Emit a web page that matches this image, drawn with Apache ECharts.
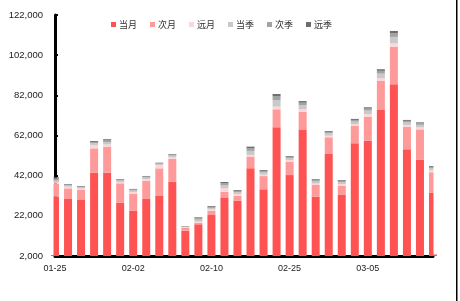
<!DOCTYPE html>
<html>
<head>
<meta charset="utf-8">
<script src="https://cdn.jsdelivr.net/npm/echarts@6/dist/echarts.min.js"></script>
<style>
html,body{margin:0;padding:0;background:#fff;}
#c{width:460px;height:301px;}
</style>
</head>
<body>
<div id="c"></div>
<script>
var categories = ['01-25','01-26','01-27','01-28','01-29','02-01','02-02','02-03','02-04','02-05',
  '02-08','02-09','02-10','02-18','02-19','02-22','02-23','02-24','02-25','02-26',
  '03-01','03-02','03-03','03-04','03-05','03-08','03-09','03-10','03-11','03-12'];
var seriesNames = ['当月','次月','远月','当季','次季','远季'];
var dangYue = [31500,30400,29900,43500,43500,28500,24600,30400,31900,39000,
  14600,17800,22400,31200,29500,45700,35200,66100,42300,64700,
  31500,52800,32400,58100,59400,74700,87500,55100,50100,33500];
var ciYue = [6500,5300,5000,12100,12950,9700,8300,9100,13750,11300,
  1500,800,2150,2800,2500,5800,6600,8950,6650,9150,
  5850,8300,4600,8650,12000,14450,18700,11300,14950,10200];
var yuanYue = [800,800,700,1650,1100,650,1000,850,1650,1000,
  200,500,600,1700,850,850,750,1300,850,1200,
  750,800,850,750,1200,1350,1700,850,950,900];
var dangJi = [1000,600,550,900,1200,700,700,700,550,700,
  300,1000,800,1500,950,2000,1100,3200,1000,2000,
  1000,1200,1000,1400,1800,2300,3200,1300,1300,1100];
var ciJi = [900,450,400,650,800,500,500,500,350,500,
  200,700,550,1100,650,1300,750,1900,650,1300,
  700,750,650,850,1000,1400,1900,750,800,700];
var yuanJi = [500,300,300,450,600,300,300,300,250,300,
  150,450,400,550,400,800,400,1200,350,800,
  400,400,350,500,650,800,1050,450,450,400];
var yTicks = [2000,22000,42000,62000,82000,102000,122000];

var seriesData = [dangYue, ciYue, yuanYue, dangJi, ciJi, yuanJi];
var colors = ['#FF5252','#FF9A9A','#FFD6D6','#C9C9C9','#A3A3A3','#6E6E6E'];

var chart = echarts.init(document.getElementById('c'), null, {renderer:'canvas'});
var series = seriesNames.map(function(n, i){
  return {
    name: n, type: 'bar', stack: 'all', data: seriesData[i],
    barWidth: 8, clip: true,
    itemStyle: {color: colors[i]}
  };
});
chart.setOption({
  animation: false,
  backgroundColor: '#fff',
  legend: {
    data: seriesNames,
    left: 106, top: 15,
    itemWidth: 5, itemHeight: 5, itemGap: 13,
    icon: 'rect',
    textStyle: {fontSize: 9, color: '#333', fontFamily: 'Noto Sans CJK SC', padding: [0,0,0,-2]}
  },
  grid: {left: 55, right: 27, top: 15, bottom: 45},
  xAxis: {
    type: 'category', data: categories, boundaryGap: false,
    axisLine: {lineStyle: {color: '#000', width: 3}},
    axisTick: {show: false},
    axisLabel: {interval: 5, fontSize: 9, color: '#222', margin: 8, fontFamily: 'Liberation Sans'},
    splitLine: {show: false}
  },
  yAxis: {
    type: 'value', min: yTicks[0], max: yTicks[yTicks.length-1], interval: yTicks[1]-yTicks[0],
    axisLine: {show: true, lineStyle: {color: '#000', width: 3}},
    axisTick: {show: true, inside: true, length: 3, lineStyle: {color: '#000', width: 2}},
    axisLabel: {fontSize: 9.5, color: '#222', margin: 12, fontFamily: 'Liberation Sans',
      formatter: function(v){ return v.toLocaleString('en-US'); }},
    splitLine: {show: false}
  },
  series: series,
  graphic: [
    {type:'rect', z:100, shape:{x:47, y:14, width:6.5, height:241}, style:{fill:'#fff'}, silent:true},
    {type:'rect', z:100, shape:{x:433.5, y:14, width:8, height:240.5}, style:{fill:'#fff'}, silent:true},
    {type:'rect', z:100, shape:{x:456, y:0, width:1.5, height:301}, style:{fill:'#000'}, silent:true}
  ]
});
</script>
</body>
</html>
